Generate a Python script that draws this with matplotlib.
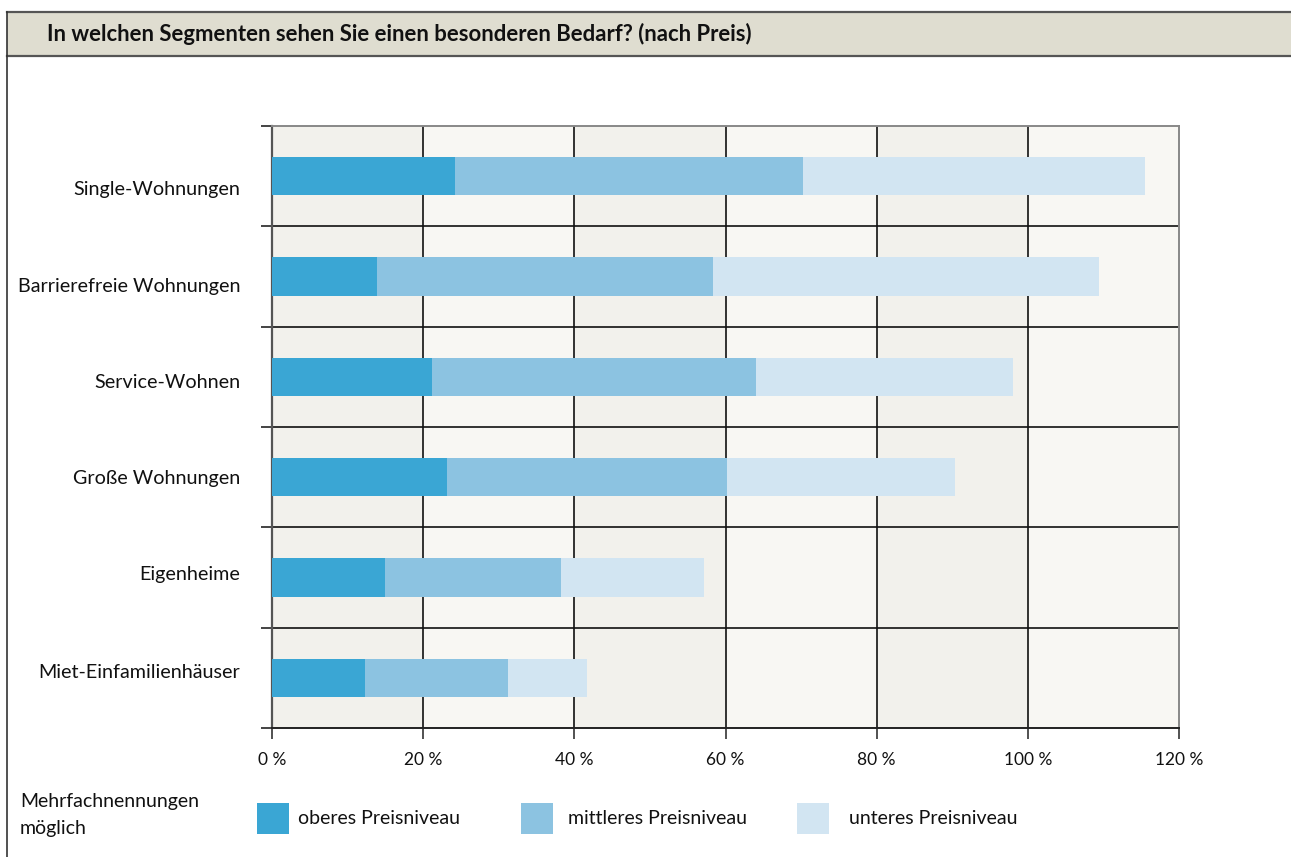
import matplotlib
matplotlib.use("Agg")
import matplotlib.pyplot as plt
from matplotlib.patches import Rectangle
from matplotlib.lines import Line2D

# Data (percent of respondents, multiple answers possible)
categories = ["Single-Wohnungen", "Barrierefreie Wohnungen", "Service-Wohnen",
              "Große Wohnungen", "Eigenheime", "Miet-Einfamilienhäuser"]
oberes = [24.2, 13.9, 21.2, 23.2, 15.0, 12.3]
mittleres = [46.0, 44.4, 42.8, 37.0, 23.2, 18.9]
unteres = [45.3, 51.1, 34.1, 30.1, 18.9, 10.5]
series_labels = ["oberes Preisniveau", "mittleres Preisniveau", "unteres Preisniveau"]
xticks = [0, 20, 40, 60, 80, 100, 120]
xtick_labels = ["0 %", "20 %", "40 %", "60 %", "80 %", "100 %", "120 %"]

title = "In welchen Segmenten sehen Sie einen besonderen Bedarf? (nach Preis)"
note = "Mehrfachnennungen\nmöglich"

colors = ["#3aa6d4", "#8cc3e1", "#d2e5f2"]
band_dark = "#f2f1ec"
band_light = "#f8f7f3"

plt.rcParams["font.family"] = ["Lato", "DejaVu Sans"]

W, H = 1291, 857
fig = plt.figure(figsize=(W / 100, H / 100), dpi=100)
fig.patch.set_facecolor("white")


def fx(px):
    return px / W


def fy(py):
    return 1 - py / H


# Header bar
fig.add_artist(Rectangle((fx(7), fy(56)), fx(W - 7), 44 / H, transform=fig.transFigure,
                         facecolor="#dfddd0", edgecolor="none", zorder=0))
fig.add_artist(Line2D([fx(7), 1], [fy(12), fy(12)], transform=fig.transFigure,
                      color="#555555", lw=1.6))
fig.add_artist(Line2D([fx(7), 1], [fy(56), fy(56)], transform=fig.transFigure,
                      color="#555555", lw=1.6))
fig.add_artist(Line2D([fx(7), fx(7)], [fy(12), 0], transform=fig.transFigure,
                      color="#333333", lw=1.2))
fig.text(fx(47), fy(34), title, fontsize=15.9, fontweight="bold", color="#111111",
         ha="left", va="center")

# Plot area
ax = fig.add_axes([fx(272), fy(728), fx(1179 - 272), (728 - 126) / H])
ax.set_xlim(0, 120)
n = len(categories)
ax.set_ylim(n - 0.5, -0.5)

for i, x0 in enumerate(range(0, 120, 20)):
    ax.axvspan(x0, x0 + 20, color=band_dark if i % 2 == 0 else band_light, zorder=0, lw=0)

ypos = list(range(n))
left = [0] * n
for vals, col, lab in zip([oberes, mittleres, unteres], colors, series_labels):
    ax.barh(ypos, vals, left=left, height=0.38, color=col, label=lab, zorder=3, lw=0)
    left = [a + b for a, b in zip(left, vals)]

# Grid lines: category separators and value lines
for b in [k + 0.5 for k in range(n - 1)]:
    ax.axhline(b, color="#111111", lw=1.2, zorder=2)
for x in xticks[1:-1]:
    ax.axvline(x, color="#111111", lw=1.2, zorder=2)

for side in ["top", "right"]:
    ax.spines[side].set_color("#888888")
    ax.spines[side].set_linewidth(1.4)
ax.spines["left"].set_color("#555555")
ax.spines["left"].set_linewidth(1.6)
ax.spines["bottom"].set_color("#222222")
ax.spines["bottom"].set_linewidth(1.4)

ax.set_xticks(xticks)
ax.set_xticklabels(xtick_labels)
ax.tick_params(axis="x", direction="out", length=8, width=1.1, color="#222222",
               pad=9, labelsize=12.5, labelcolor="#111111")

# Category labels are spread a little tighter than the bands themselves
label_y = [0.12, 1.08, 2.04, 3.0, 3.96, 4.93]
ax.set_yticks(label_y)
ax.set_yticklabels(categories)
ax.set_yticks([k - 0.5 for k in range(n + 1)], minor=True)
ax.tick_params(axis="y", which="major", length=0, pad=23, labelsize=14.2,
               labelcolor="#111111")
ax.tick_params(axis="y", which="minor", direction="out", length=8, width=1.1,
               color="#111111")

# Footer: note and legend
fig.text(fx(20), fy(815), note, fontsize=14, color="#111111", ha="left", va="center",
         linespacing=1.65)
legend_patch_x = [257, 521, 797]
legend_text_x = [298, 568, 849]
for px, tx, col, lab in zip(legend_patch_x, legend_text_x, colors, series_labels):
    fig.add_artist(Rectangle((fx(px), fy(834)), fx(32), 31 / H, transform=fig.transFigure,
                             facecolor=col, edgecolor="none"))
    fig.text(fx(tx), fy(819), lab, fontsize=14, color="#111111", ha="left",
             va="center")

fig.savefig("out.png", dpi=100, facecolor="white")
